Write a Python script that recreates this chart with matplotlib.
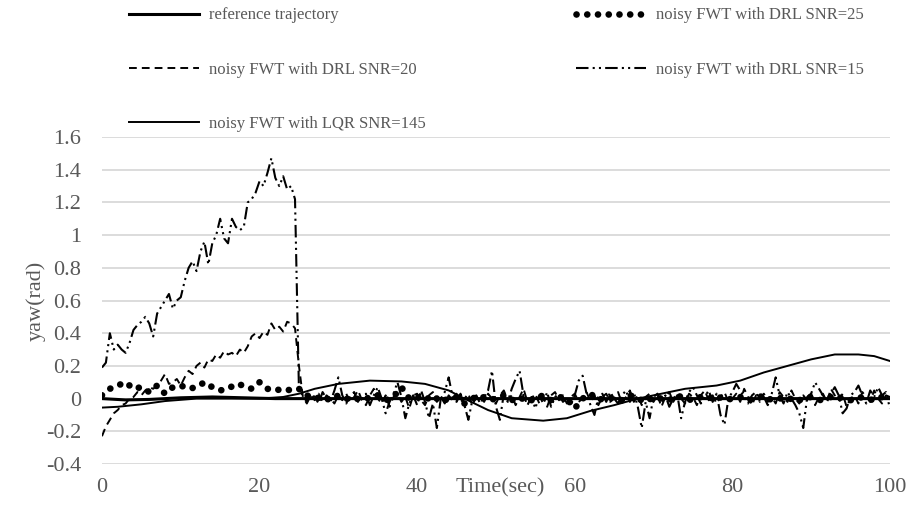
import matplotlib
matplotlib.use("Agg")
import matplotlib.pyplot as plt
import numpy as np

plt.rcParams['font.family'] = ['Liberation Serif', 'DejaVu Serif']

# time axis of the sampled noisy runs (sec)
t_half = np.arange(0, 100.5, 0.5)
t_one = np.arange(0, 101, 1)

# reference trajectory (rad)
t_ref = [0, 3, 6, 10, 14, 18, 22, 25, 100]
ref = [0.0, -0.008, -0.005, 0.005, 0.01, 0.005, 0.0, 0.0, 0.0]

# noisy FWT with LQR SNR=145
t_lqr = [0, 2, 5, 8, 12, 16, 20, 23, 25, 27, 30, 34, 38, 41, 44, 46, 49, 52, 56,
         59, 62, 65, 68, 71, 74, 78, 81, 84, 87, 90, 93, 96, 98, 100]
lqr = [-0.055, -0.05, -0.035, -0.015, 0.0, 0.0, 0.0, 0.01, 0.03, 0.06, 0.09, 0.11,
       0.105, 0.09, 0.05, 0.0, -0.07, -0.12, -0.135, -0.12, -0.075, -0.04, 0.0,
       0.03, 0.06, 0.08, 0.11, 0.16, 0.2, 0.24, 0.27, 0.27, 0.26, 0.23]

# noisy FWT with DRL SNR=25 (every 1 s)
drl25 = [0.02, 0.06, 0.08, 0.1, 0.06, 0.07, 0.04, 0.08, 0.03, 0.07,
         0.08, 0.06, 0.07, 0.1, 0.07, 0.05, 0.06, 0.09, 0.08, 0.06,
         0.1, 0.06, 0.05, 0.06, 0.05, 0.06, 0.02, 0.0, 0.01, -0.01,
         0.02, 0.0, -0.01, 0.01, 0.0, 0.02, -0.01, 0.01, 0.07, 0.0,
         0.01, -0.01, 0.02, -0.02, 0.0, 0.01, -0.03, 0.0, 0.02, -0.01,
         0.0, 0.02, -0.01, 0.01, -0.02, 0.0, 0.02, -0.01, 0.01, 0.0,
         -0.06, 0.0, 0.03, -0.01, 0.01, 0.0, -0.01, 0.02, 0.0, -0.02,
         0.01, 0.0, -0.01, 0.02, 0.0, -0.01, 0.01, 0.0, 0.02, -0.01,
         0.0, 0.01, -0.01, 0.0, 0.02, -0.01, 0.0, 0.01, -0.02, 0.0,
         0.01, -0.01, 0.0, 0.02, 0.0, -0.01, 0.01, 0.0, -0.01, 0.01, 0.0]

# noisy FWT with DRL SNR=20 (every 0.5 s)
drl20 = [-0.23, -0.17, -0.13, -0.09, -0.07, -0.04, -0.03, 0.0, 0.01, 0.04,
         0.02, 0.05, 0.07, 0.06, 0.08, 0.11, 0.15, 0.09, 0.1, 0.12,
         0.08, 0.13, 0.17, 0.15, 0.2, 0.22, 0.19, 0.24, 0.23, 0.27,
         0.25, 0.29, 0.27, 0.28, 0.26, 0.3, 0.28, 0.32, 0.38, 0.4,
         0.37, 0.41, 0.39, 0.46, 0.42, 0.44, 0.41, 0.47, 0.46, 0.43, 0.2,
         0.01, -0.03, 0.02, -0.01, 0.03, -0.02, 0.02, 0.0, -0.03, 0.02,
         -0.01, 0.03, -0.02, 0.01, 0.05, -0.01, -0.04, 0.02, 0.06, 0.0,
         -0.03, 0.02, -0.05, 0.01, 0.03, -0.02, 0.01, -0.06, 0.02, 0.03,
         -0.01, -0.04, 0.02, 0.04, -0.02, 0.01, -0.03, 0.02, -0.01, 0.03,
         -0.02, 0.0, 0.03, -0.04, 0.01, 0.02, -0.02, 0.03, 0.0, -0.03,
         0.02, 0.05, -0.01, 0.02, -0.04, 0.01, 0.06, -0.02, 0.0, 0.03,
         -0.03, 0.01, -0.05, 0.02, 0.04, -0.01, 0.02, -0.03, 0.01, 0.03,
         -0.02, 0.0, 0.04, -0.02, 0.02, -0.04, 0.01, 0.03, -0.02, 0.0,
         0.04, -0.03, 0.01, 0.05, -0.02, 0.02, -0.04, 0.01, 0.03, -0.02,
         0.02, -0.05, 0.01, 0.04, -0.02, 0.02, 0.0, -0.03, 0.03, 0.01,
         -0.04, 0.02, 0.05, -0.01, 0.02, -0.03, 0.01, 0.04, -0.02, 0.0,
         0.03, -0.02, 0.06, 0.01, -0.04, 0.02, 0.0, 0.03, -0.02, 0.01,
         -0.03, 0.04, 0.01, -0.02, 0.05, 0.0, -0.03, 0.02, -0.01, 0.03,
         -0.04, 0.01, 0.03, -0.02, 0.06, 0.02, -0.01, 0.03, -0.05, 0.0,
         0.02, -0.03, 0.04, 0.01, -0.02, 0.05, 0.0, -0.03, 0.02, 0.01]

# noisy FWT with DRL SNR=15 (every 0.5 s)
drl15 = [0.19, 0.22, 0.4, 0.3, 0.33, 0.3, 0.28, 0.34, 0.42, 0.45,
         0.47, 0.5, 0.46, 0.38, 0.52, 0.56, 0.6, 0.64, 0.55, 0.6,
         0.62, 0.72, 0.8, 0.84, 0.78, 0.9, 0.96, 0.82, 0.95, 1.0,
         1.1, 0.98, 0.95, 1.1, 1.05, 1.03, 1.05, 1.2, 1.22, 1.26,
         1.33, 1.3, 1.38, 1.47, 1.35, 1.3, 1.36, 1.28, 1.3, 1.22, 0.05,
         0.02, -0.02, 0.03, 0.01, -0.03, 0.04, 0.0, -0.02, 0.05, 0.13,
         0.02, -0.03, 0.01, 0.04, -0.02, 0.0, 0.03, -0.04, 0.02, 0.07,
         0.0, -0.09, -0.02, 0.03, 0.1, 0.01, -0.12, -0.03, 0.02, -0.04,
         0.05, -0.02, -0.12, -0.03, -0.18, 0.0, 0.04, 0.13, 0.01, -0.02,
         0.03, -0.04, -0.13, -0.01, 0.02, -0.03, 0.01, 0.05, 0.17, -0.05,
         -0.13, 0.03, -0.02, 0.06, 0.12, 0.17, 0.02, -0.04, 0.01, -0.06,
         0.02, -0.03, 0.04, -0.05, 0.01, 0.03, -0.02, 0.0, -0.04, 0.02,
         0.11, 0.14, 0.03, -0.04, -0.1, 0.01, 0.03, -0.02, 0.04, 0.0,
         -0.03, 0.02, 0.05, -0.02, 0.04, -0.05, -0.18, -0.02, -0.12, 0.01,
         0.03, -0.03, 0.02, -0.05, 0.0, 0.03, -0.12, -0.02, 0.04, 0.07,
         0.02, -0.03, 0.01, 0.05, -0.02, 0.03, -0.1, -0.16, 0.0, 0.04,
         0.09, 0.05, 0.01, -0.03, 0.02, 0.04, -0.02, 0.01, -0.04, 0.03,
         0.13, 0.02, -0.03, 0.04, 0.0, -0.04, -0.09, -0.18, 0.01, 0.03,
         0.1, 0.06, 0.02, -0.02, 0.03, 0.07, 0.02, -0.09, -0.06, 0.02,
         0.04, 0.08, 0.02, -0.03, 0.05, 0.01, 0.07, 0.02, 0.04, -0.06]

labels = ["reference trajectory", "noisy FWT with DRL SNR=25",
          "noisy FWT with DRL SNR=20", "noisy FWT with DRL SNR=15",
          "noisy FWT with LQR SNR=145"]
yticks = [-0.4, -0.2, 0, 0.2, 0.4, 0.6, 0.8, 1, 1.2, 1.4, 1.6]
xticks = [0, 20, 40, 60, 80, 100]

grey = "#595959"

fig = plt.figure(figsize=(9.12, 5.09), dpi=100)
ax = fig.add_axes([0.1118, 0.0884, 0.8640, 0.6424])

l_ref, = ax.plot(t_ref, ref, color="black", lw=2.2, label=labels[0], zorder=5)
l_25, = ax.plot(t_one, drl25, color="black", lw=4.8, dashes=(0.01, 1.6),
                dash_capstyle="round", label=labels[1], zorder=4)
l_20, = ax.plot(t_half, drl20, color="black", lw=1.4, dashes=(4, 2.6),
                label=labels[2], zorder=3)
l_15, = ax.plot(t_half, drl15, color="black", lw=1.5, dashes=(6, 2, 1, 2, 1, 2),
                label=labels[3], zorder=3)
l_lqr, = ax.plot(t_lqr, lqr, color="black", lw=1.4, label=labels[4], zorder=5)

ax.set_xlim(0, 100)
ax.set_ylim(-0.4, 1.6)
ax.set_yticks(yticks)
ax.set_yticklabels([f"{v:g}" for v in yticks])
ax.set_xticks(xticks)
ax.grid(axis="y", color="#d9d9d9", lw=1.3)
ax.set_axisbelow(True)
for s in ax.spines.values():
    s.set_visible(False)
ax.tick_params(axis="both", length=0, labelsize=16, labelcolor=grey)
ax.tick_params(axis="y", pad=15)
ax.tick_params(axis="x", pad=10)

ax.set_ylabel("yaw(rad)", fontsize=16, color=grey, labelpad=0)
ax.set_xlabel("Time(sec)", fontsize=16, color=grey)
ax.xaxis.set_label_coords(0.505, -0.042, transform=ax.transAxes)
ax.xaxis.label.set_va("top")

handles = [l_ref, l_20, l_lqr, l_25, l_15]
fig.legend(handles, [h.get_label() for h in handles], ncol=2, frameon=False,
           loc="upper left", bbox_to_anchor=(0.125, 1.015), fontsize=12,
           handlelength=4.2, handletextpad=0.6, columnspacing=9.0,
           labelspacing=2.3, labelcolor=grey)

fig.savefig("out.png", dpi=100)
